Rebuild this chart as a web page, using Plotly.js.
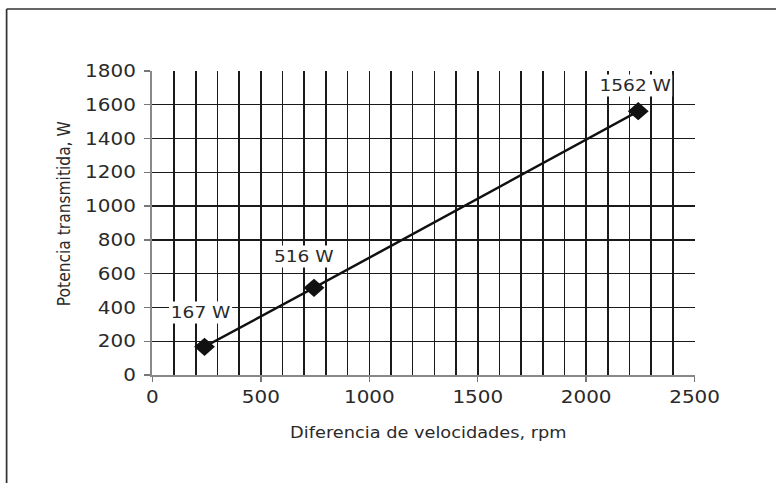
<!DOCTYPE html>
<html>
<head>
<meta charset="utf-8">
<script src="https://cdn.plot.ly/plotly-3.0.1.min.js"></script>
<style>
html,body{margin:0;padding:0;background:#fff;overflow:hidden;}
#wrap{width:776px;height:483px;overflow:hidden;}
#chart{width:677px;height:483px;transform:scaleX(1.14623);transform-origin:0 0;}
</style>
</head>
<body>
<div id="wrap"><div id="chart"></div></div>
<script>
// Data
const velocidades = [240, 745, 2240];      // rpm
const potencia = [167, 516, 1562];         // W
const etiquetas = potencia.map(v => v + ' W');
const labelShiftX = [-3.5, -8.7, -2.6];
const labelShiftY = [34, 31, 26];
const xTickVals = [0, 500, 1000, 1500, 2000, 2500];
const yTickVals = [0, 200, 400, 600, 800, 1000, 1200, 1400, 1600, 1800];
const xTitle = 'Diferencia de velocidades, rpm';
const yTitle = 'Potencia transmitida, W';

const FONT = 'DejaVu Sans, sans-serif';
const GRID = '#1a1a1a';
const TXT = '#2a2a2a';

const trace = {
  x: velocidades,
  y: potencia,
  type: 'scatter',
  mode: 'lines+markers',
  line: {color: '#111', width: 2.4},
  marker: {symbol: 'diamond', size: 14, color: '#111'},
  hoverinfo: 'skip',
  showlegend: false
};

const annotations = velocidades.map((x, i) => ({
  x: x, y: potencia[i], xref: 'x', yref: 'y',
  text: etiquetas[i], showarrow: false,
  xshift: labelShiftX[i], yshift: labelShiftY[i],
  bgcolor: '#fff', borderpad: 1,
  font: {family: FONT, size: 16.2, color: TXT}
}));
annotations.push({
  xref: 'paper', yref: 'paper', x: 0.5085, y: -0.19,
  xanchor: 'center', yanchor: 'middle', showarrow: false,
  text: xTitle, font: {family: FONT, size: 15.5, color: TXT}
});
annotations.push({
  xref: 'paper', yref: 'paper', x: -0.162, y: 0.53,
  xanchor: 'center', yanchor: 'middle', showarrow: false, textangle: -90,
  text: yTitle, font: {family: FONT, size: 15.5, color: TXT}
});

const layout = {
  width: 677, height: 483,
  margin: {l: 133.2, r: 71.2, t: 71, b: 108},
  paper_bgcolor: '#fff', plot_bgcolor: '#fff',
  font: {family: FONT, color: TXT},
  xaxis: {
    range: [0, 2500],
    tickvals: xTickVals,
    ticks: 'outside', ticklen: 5, tickwidth: 1.3, tickcolor: '#777',
    ticklabelstandoff: 4.5,
    showgrid: true, gridcolor: GRID, gridwidth: 1.4,
    minor: {dtick: 100, tick0: 0, showgrid: true, gridcolor: GRID, gridwidth: 1.4, ticks: ''},
    showline: true, linecolor: '#888', linewidth: 2,
    zeroline: false,
    tickfont: {family: FONT, size: 17.4, color: TXT},
    fixedrange: true
  },
  yaxis: {
    range: [0, 1800],
    tickvals: yTickVals,
    ticks: 'outside', ticklen: 5, tickwidth: 1.3, tickcolor: '#777',
    ticklabelstandoff: 4,
    showgrid: true, gridcolor: GRID, gridwidth: 1.4,
    showline: true, linecolor: '#888', linewidth: 2,
    zeroline: false,
    tickfont: {family: FONT, size: 17.4, color: TXT},
    fixedrange: true
  },
  annotations: annotations,
  shapes: [
    {type: 'line', xref: 'paper', yref: 'paper', x0: -0.269, x1: 1.16, y0: 1.204, y1: 1.204, line: {color: '#333', width: 1.5}},
    {type: 'line', xref: 'paper', yref: 'paper', x0: -0.269, x1: -0.269, y0: 1.204, y1: -0.36, line: {color: '#333', width: 1.5}}
  ]
};

Plotly.newPlot('chart', [trace], layout, {staticPlot: true, displayModeBar: false});
</script>
</body>
</html>
